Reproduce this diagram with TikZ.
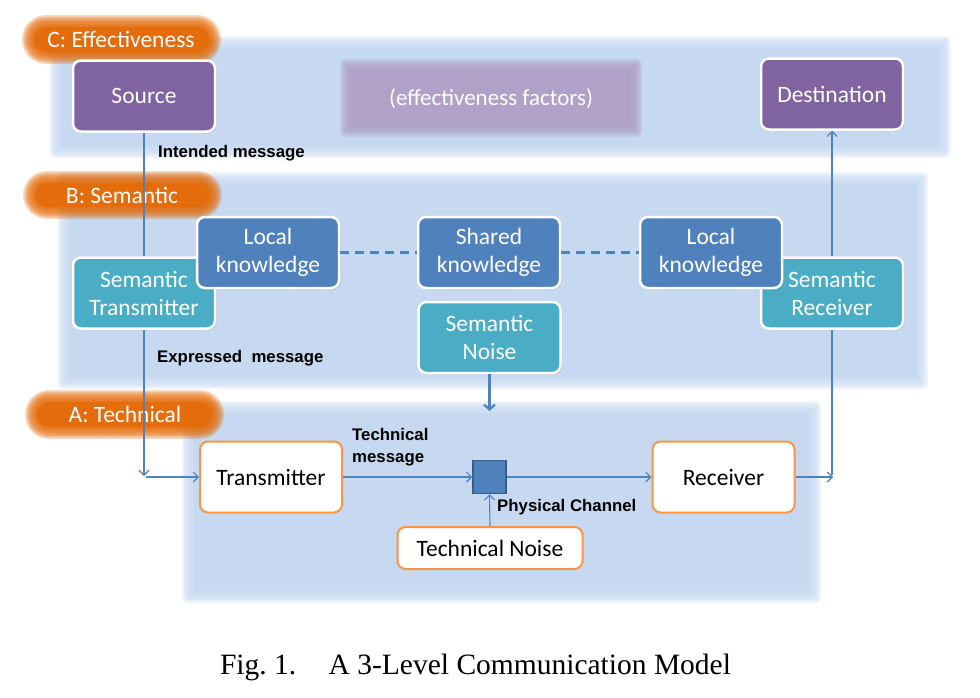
\documentclass[tikz,border=0pt]{standalone}
\usepackage{fontspec}
\newfontfamily\carl{Carlito}
\newfontfamily\arl{Liberation Sans}
\newfontfamily\tms{Liberation Serif}
\usetikzlibrary{arrows.meta,shadows}
\definecolor{band}{HTML}{C6D9F0}
\definecolor{pill}{HTML}{E46C0A}
\definecolor{purp}{HTML}{8064A2}
\definecolor{lpurp}{HTML}{B1A0C7}
\definecolor{semteal}{HTML}{4BACC6}
\definecolor{kblue}{HTML}{4F81BD}
\definecolor{orng}{HTML}{F79646}
\definecolor{sqborder}{HTML}{385D8A}
\newcommand\softrect[6]{%
  \foreach \d in {6,4.5,3,1.5,0,-1.5,-3,-4.5}{%
    \pgfmathsetmacro\rr{max(0.01,#6+\d)}%
    \fill[#1,opacity=0.25,rounded corners=\rr pt] ({#2-\d},{#3-\d}) rectangle ({#4+\d},{#5+\d});}
  \pgfmathsetmacro\rr{max(0.01,#6-6)}%
  \fill[#1,rounded corners=\rr pt] ({#2+6},{#3+6}) rectangle ({#4-6},{#5-6});}
\tikzset{
  bxbase/.style={rounded corners=8pt, align=center, inner sep=0pt,
    minimum width=142pt, minimum height=71pt,
    font=\carl\fontsize{23.5}{28}\selectfont},
  bx/.style={bxbase, draw=white, line width=2.5pt, text=white,
    drop shadow={opacity=0.25,shadow xshift=1.5pt,shadow yshift=-1.5pt}},
  purpbox/.style={bx, fill=purp},
  tealbox/.style={bx, fill=semteal},
  kbox/.style={bx, fill=kblue},
  obox/.style={bxbase, draw=orng, fill=white, text=black, line width=2pt},
  conn/.style={draw=kblue, line width=1.1pt, -{Straight Barb[length=5pt,width=10pt]}},
  plain/.style={draw=kblue, line width=1.1pt},
  lbl/.style={font=\arl\bfseries\fontsize{16.8}{22}\selectfont, anchor=west, align=left, inner sep=0pt},
  pilltext/.style={font=\carl\fontsize{23.5}{27}\selectfont, text=white, inner sep=0pt}
}
\begin{document}
\begin{tikzpicture}[x=1pt,y=-1pt]
\useasboundingbox (0,0) rectangle (980,697);
% bands
\softrect{band}{55}{42}{945}{152}{0}
\softrect{band}{63}{178}{922}{383}{0}
\softrect{band}{188}{407}{815}{597}{0}
% pills
\softrect{pill}{28}{21}{215}{58}{18}
\softrect{pill}{29}{177}{216}{213}{18}
\softrect{pill}{31}{396}{218}{433}{18}
\node[pilltext] (pC) at (121,39) {C: Effectiveness};
\node[pilltext] (pB) at (122,195) {B: Semantic};
\node[pilltext] (pA) at (125,414) {A: Technical};
% effectiveness factors
\softrect{lpurp}{346}{65}{636}{131}{0}
\node[font=\carl\fontsize{23}{26}\selectfont, text=white] (ef) at (491,99) {(effectiveness factors)};
% level C boxes
\node[purpbox] (src) at (144,96) {Source};
\node[purpbox] (dst) at (832,94) {Destination};
% level B boxes
\node[tealbox] (semT) at (144,293) {Semantic\\Transmitter};
\node[tealbox] (semR) at (832,293) {Semantic\\Receiver};
\node[kbox] (lkL) at (268,252.5) {Local\\knowledge};
\node[kbox] (sk) at (489,252.5) {Shared\\knowledge};
\node[kbox] (lkR) at (711,252.5) {Local\\knowledge};
\node[tealbox] (sn) at (489.5,337.5) {Semantic\\Noise};
% level A boxes
\node[obox] (tx) at (271,477) {Transmitter};
\node[obox] (rx) at (723.5,477) {Receiver};
\node[draw=sqborder, fill=kblue, line width=1.5pt, minimum size=33pt, inner sep=0pt] (sq) at (489.5,477) {};
\node[obox, minimum width=185pt, minimum height=42pt] (tn) at (490,548) {Technical Noise};
% free ends
\coordinate (dn) at (144,476);
\coordinate (hin) at (146,477);
\coordinate (rout) at (833,477);
\coordinate (rdn) at (832,475);
\coordinate (snend) at (489.5,411);
% connectors
\draw[plain] (src.south) -- (semT.north);
\draw[conn] (semT.south) -- (dn);
\draw[conn] (hin) -- (tx.west);
\draw[conn] (tx.east) -- (sq.west);
\draw[conn] (sq.east) -- (rx.west);
\draw[conn] (rx.east) -- (rout);
\draw[plain] (semR.south) -- (rdn);
\draw[conn] (semR.north) -- (dst.south);
\draw[conn] (tn.north) -- (sq.south);
\draw[draw=kblue, line width=2.2pt, -{Straight Barb[length=5pt,width=11pt]}] (sn.south) -- (snend);
\draw[draw=kblue, line width=2.5pt, dash pattern=on 9pt off 6pt] (lkL.east) -- (sk.west);
\draw[draw=kblue, line width=2.5pt, dash pattern=on 9pt off 6pt] (sk.east) -- (lkR.west);
% labels
\node[lbl] (im) at (158,153) {Intended message};
\node[lbl] (em) at (157,358) {Expressed\ \ message};
\node[lbl] (tm) at (352,447) {Technical\\message};
\node[lbl] (pc) at (497,507) {Physical Channel};
% caption
\node[font=\tms\fontsize{29.5}{34}\selectfont, inner sep=0pt] (cap) at (475.5,667) {Fig.~1.\hspace{1.1em}A 3-Level Communication Model};
\end{tikzpicture}
\end{document}
